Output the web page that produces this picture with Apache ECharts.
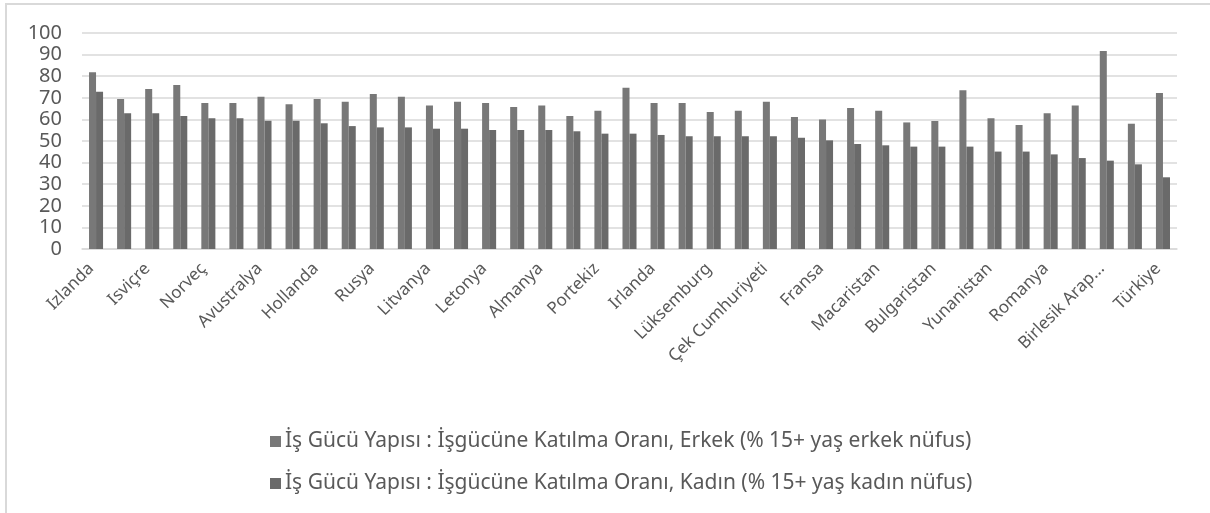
<!DOCTYPE html>
<html>
<head>
<meta charset="utf-8">
<script src="https://cdn.jsdelivr.net/npm/echarts@6/dist/echarts.min.js"></script>
<style>
  html, body { margin: 0; padding: 0; background: #fff; }
  #chart { width: 1210px; height: 513px; }
</style>
</head>
<body>
<div id="chart"></div>
<script>
// ülkeler (etiketsiz olanlar boş bırakıldı, grafikte sadece her ikinci etiket görünüyor)
var countries = [
  'Izlanda', '', 'Isviçre', '', 'Norveç', '', 'Avustralya', '', 'Hollanda', '',
  'Rusya', '', 'Litvanya', '', 'Letonya', '', 'Almanya', '', 'Portekiz', '',
  'Irlanda', '', 'Lüksemburg', '', 'Çek Cumhuriyeti', '', 'Fransa', '', 'Macaristan', '',
  'Bulgaristan', '', 'Yunanistan', '', 'Romanya', '', 'Birlesik Arap...', '', 'Türkiye'
]
var erkek = [
  81.8, 69.4, 74.1, 75.9, 67.6, 67.6, 70.5, 67.0, 69.4, 68.2, 71.8, 70.5,
  66.4, 68.2, 67.6, 65.7, 66.4, 61.6, 64.0, 74.7, 67.6, 67.6, 63.4, 64.0, 68.2, 61.1,
  59.9, 65.3, 64.0, 58.6, 59.3, 73.5, 60.5, 57.4, 62.8, 66.4, 91.7, 58.0, 72.2
]
var kadin = [
  72.8, 62.8, 62.8, 61.6, 60.5, 60.5, 59.4, 59.4, 58.2, 56.9, 56.3, 56.3,
  55.7, 55.7, 55.1, 55.1, 55.1, 54.5, 53.4, 53.4, 52.8, 52.2, 52.2, 52.2, 52.2, 51.5,
  50.3, 48.6, 48.0, 47.4, 47.4, 47.4, 45.1, 45.1, 43.8, 42.1, 40.9, 39.2, 33.2
]
var seriesNames = [
  'İş Gücü Yapısı : İşgücüne Katılma Oranı, Erkek (% 15+ yaş erkek nüfus)',
  'İş Gücü Yapısı : İşgücüne Katılma Oranı, Kadın (% 15+ yaş kadın nüfus)'
]
var yTicks = { min: 0, max: 100, step: 10 }

var font = 'Noto Sans'
var textColor = '#595959'
var gridColor = '#d9d9d9'

var myChart = echarts.init(document.getElementById('chart'), null, { renderer: 'canvas' })
myChart.setOption({
  animation: false,
  backgroundColor: '#fff',
  color: ['#787878', '#6a6a6a'],
  grid: { left: 82, right: 33, top: 33, bottom: 264, containLabel: false },
  legend: {
    orient: 'vertical',
    left: 265,
    top: 426,
    itemWidth: 11,
    itemHeight: 11,
    itemGap: 21,
    icon: 'rect',
    textStyle: { fontFamily: font, fontSize: 21, color: textColor, padding: [0, 0, 0, -1] },
    data: seriesNames
  },
  xAxis: {
    type: 'category',
    data: countries,
    boundaryGap: true,
    axisLine: { show: true, lineStyle: { color: gridColor, width: 1.5 } },
    axisTick: { show: false },
    axisLabel: {
      interval: 0,
      rotate: 45,
      margin: 12,
      padding: [0, 7, 0, 0],
      fontFamily: font,
      fontSize: 17,
      color: textColor
    }
  },
  yAxis: {
    type: 'value',
    min: yTicks.min,
    max: yTicks.max,
    interval: yTicks.step,
    axisLine: { show: false },
    axisTick: { show: false },
    splitLine: { lineStyle: { color: gridColor, width: 1.5 } },
    axisLabel: { margin: 20, fontFamily: font, fontSize: 20, color: textColor }
  },
  series: [
    { name: seriesNames[0], type: 'bar', data: erkek, barGap: '0%', barCategoryGap: '50%' },
    { name: seriesNames[1], type: 'bar', data: kadin, barGap: '0%', barCategoryGap: '50%' }
  ],
  graphic: [
    { type: 'line', shape: { x1: 5, y1: 4, x2: 1210, y2: 4 }, style: { stroke: gridColor, lineWidth: 2 } },
    { type: 'line', shape: { x1: 6, y1: 4, x2: 6, y2: 513 }, style: { stroke: gridColor, lineWidth: 2 } }
  ]
})
</script>
</body>
</html>
